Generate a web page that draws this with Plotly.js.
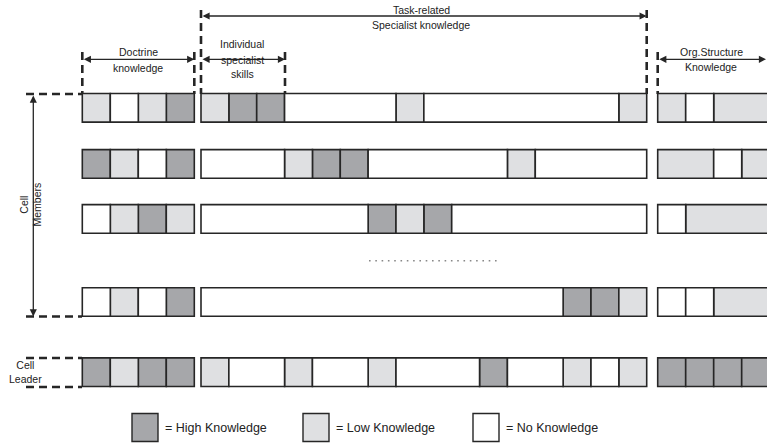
<!DOCTYPE html>
<html>
<head>
<meta charset="utf-8">
<script src="https://cdn.plot.ly/plotly-3.0.1.min.js"></script>
<style>html,body{margin:0;padding:0;background:#fff}#chart{width:767px;height:445px}</style>
</head>
<body>
<div id="chart"></div>
<script>
// ---- data ----
const rowNames = ["Member 1", "Member 2", "Member 3", "Member n", "Cell Leader"];
// H = High Knowledge, L = Low Knowledge, N = No Knowledge ; [level, number of cells]
const doctrineSegments = [
  [["L",1],["N",1],["L",1],["H",1]],
  [["H",1],["L",1],["N",1],["H",1]],
  [["N",1],["L",1],["H",1],["L",1]],
  [["N",1],["L",1],["N",1],["H",1]],
  [["H",1],["L",1],["H",1],["H",1]]
];
const taskSegments = [
  [["L",1],["H",1],["H",1],["N",4],["L",1],["N",7],["L",1]],
  [["N",3],["L",1],["H",1],["H",1],["N",5],["L",1],["N",4]],
  [["N",6],["H",1],["L",1],["H",1],["N",7]],
  [["N",13],["H",1],["H",1],["L",1]],
  [["L",1],["N",2],["L",1],["N",2],["L",1],["N",3],["H",1],["N",2],["L",1],["N",1],["L",1]]
];
const orgSegments = [
  [["L",1],["N",1],["L",2]],
  [["L",2],["N",1],["L",1]],
  [["N",1],["L",3]],
  [["N",1],["N",1],["L",2]],
  [["H",1],["H",1],["H",1],["H",1]]
];
const levels = ["H", "L", "N"];
const levelLabels = ["= High Knowledge", "= Low Knowledge", "= No Knowledge"];

// ---- layout / style ----
const PX = 28;             // pixels per cell
const X0 = 82.3;           // pixel of the first cell
const ux = p => (p - X0) / PX;
const uy = p => p / PX;
const levelColors = {H: "#a6a7aa", L: "#dfe0e2", N: "#ffffff"};
const rowY = [107.8, 163.9, 218.9, 302, 372.2].map(uy);
const blocks = [
  {segs: doctrineSegments, start: 0,        scale: 1},
  {segs: taskSegments,     start: ux(201),  scale: (646.7 - 201) / 16 / PX},
  {segs: orgSegments,      start: ux(657.7), scale: 1}
];
const INK = "#262626";
const FONT = "'Liberation Sans', Arial, sans-serif";

// build bar traces (one per knowledge level)
const traces = levels.map(lv => ({
  type: "bar", orientation: "h", x: [], y: [], base: [],
  width: 1.02,
  marker: {color: levelColors[lv], line: {color: INK, width: 1.6}},
  hoverinfo: "skip", showlegend: false
}));
blocks.forEach(b => {
  b.segs.forEach((row, ri) => {
    let pos = b.start;
    row.forEach(([lv, n]) => {
      const t = traces[levels.indexOf(lv)];
      t.x.push(n * b.scale); t.y.push(rowY[ri]); t.base.push(pos);
      pos += n * b.scale;
    });
  });
});

const shapes = [];
const dash = "8px,5px";
function vdash(px, y1, y2) {
  shapes.push({type: "line", xref: "x", yref: "y", x0: ux(px), x1: ux(px), y0: uy(y1), y1: uy(y2),
    line: {color: INK, width: 2.6, dash: dash}});
}
function hdash(x1, x2, py) {
  shapes.push({type: "line", xref: "x", yref: "y", x0: ux(x1), x1: ux(x2), y0: uy(py), y1: uy(py),
    line: {color: INK, width: 2.6, dash: dash}});
}
vdash(82.3, 52, 94); vdash(194.3, 52, 94);
vdash(201, 10, 94); vdash(285, 52, 94);
vdash(646.7, 10, 94); vdash(657.7, 52, 94);
hdash(26, 82, 94); hdash(26, 82, 316.5);
hdash(26, 82, 358); hdash(26, 82, 387);
// ellipsis between rows
shapes.push({type: "line", xref: "x", yref: "y", x0: ux(369), x1: ux(497), y0: uy(260.7), y1: uy(260.7),
  line: {color: "#888", width: 1.6, dash: "1.6px,4.7px"}});
// legend keys
const legendX = [132, 303, 473];
legendX.forEach((lx, i) => {
  shapes.push({type: "rect", xref: "x", yref: "y", x0: ux(lx), x1: ux(lx + 26), y0: uy(413.5), y1: uy(441.5),
    fillcolor: levelColors[levels[i]], line: {color: INK, width: 1.4}});
});

const annotations = [];
function arrow(x1, y1, x2, y2) {
  annotations.push({xref: "x", yref: "y", axref: "x", ayref: "y", x: ux(x2), y: uy(y2), ax: ux(x1), ay: uy(y1),
    text: "", showarrow: true, arrowside: "end+start", arrowhead: 2, startarrowhead: 2,
    arrowsize: 1.1, startarrowsize: 1.1, arrowwidth: 1.3, arrowcolor: INK, standoff: 0, startstandoff: 0});
}
function label(text, px, py, size, opts) {
  annotations.push(Object.assign({xref: "x", yref: "y", x: ux(px), y: uy(py), text: text, showarrow: false,
    font: {family: FONT, size: size, color: "#222"}, xanchor: "center", yanchor: "middle"}, opts || {}));
}
arrow(82.3, 59.3, 194.3, 59.3);
arrow(201, 59.3, 285, 59.3);
arrow(201, 16, 646.7, 16);
arrow(657.7, 59.3, 766, 59.3);
arrow(33.3, 94, 33.3, 316.5);

label("Doctrine", 138, 51.7, 10.5);
label("knowledge", 138, 67.7, 10.5);
label("Individual", 242, 44, 10.5);
label("specialist", 242, 59.5, 10.5);
label("skills", 242, 74, 10.5);
label("Task-related", 421, 9.5, 10.5);
label("Specialist knowledge", 421, 25, 10.5);
label("Org.Structure", 711, 52, 10.5);
label("Knowledge", 711, 67, 10.5);
label("Cell<br>Members", 30.5, 205, 10.5, {textangle: -90});
label("Cell<br>Leader", 25.5, 372, 10.5);
legendX.forEach((lx, i) => label(levelLabels[i], lx + 31, 428, 12.5, {xanchor: "left"}));

const layout = {
  width: 767, height: 445,
  margin: {l: 0, r: 0, t: 0, b: 0},
  paper_bgcolor: "#ffffff", plot_bgcolor: "#ffffff",
  barmode: "overlay",
  xaxis: {range: [ux(0), ux(767)], visible: false, fixedrange: true},
  yaxis: {range: [uy(445), uy(0)], visible: false, fixedrange: true},
  shapes: shapes, annotations: annotations,
  showlegend: false
};
Plotly.newPlot("chart", traces, layout, {displayModeBar: false, staticPlot: true});
</script>
</body>
</html>
